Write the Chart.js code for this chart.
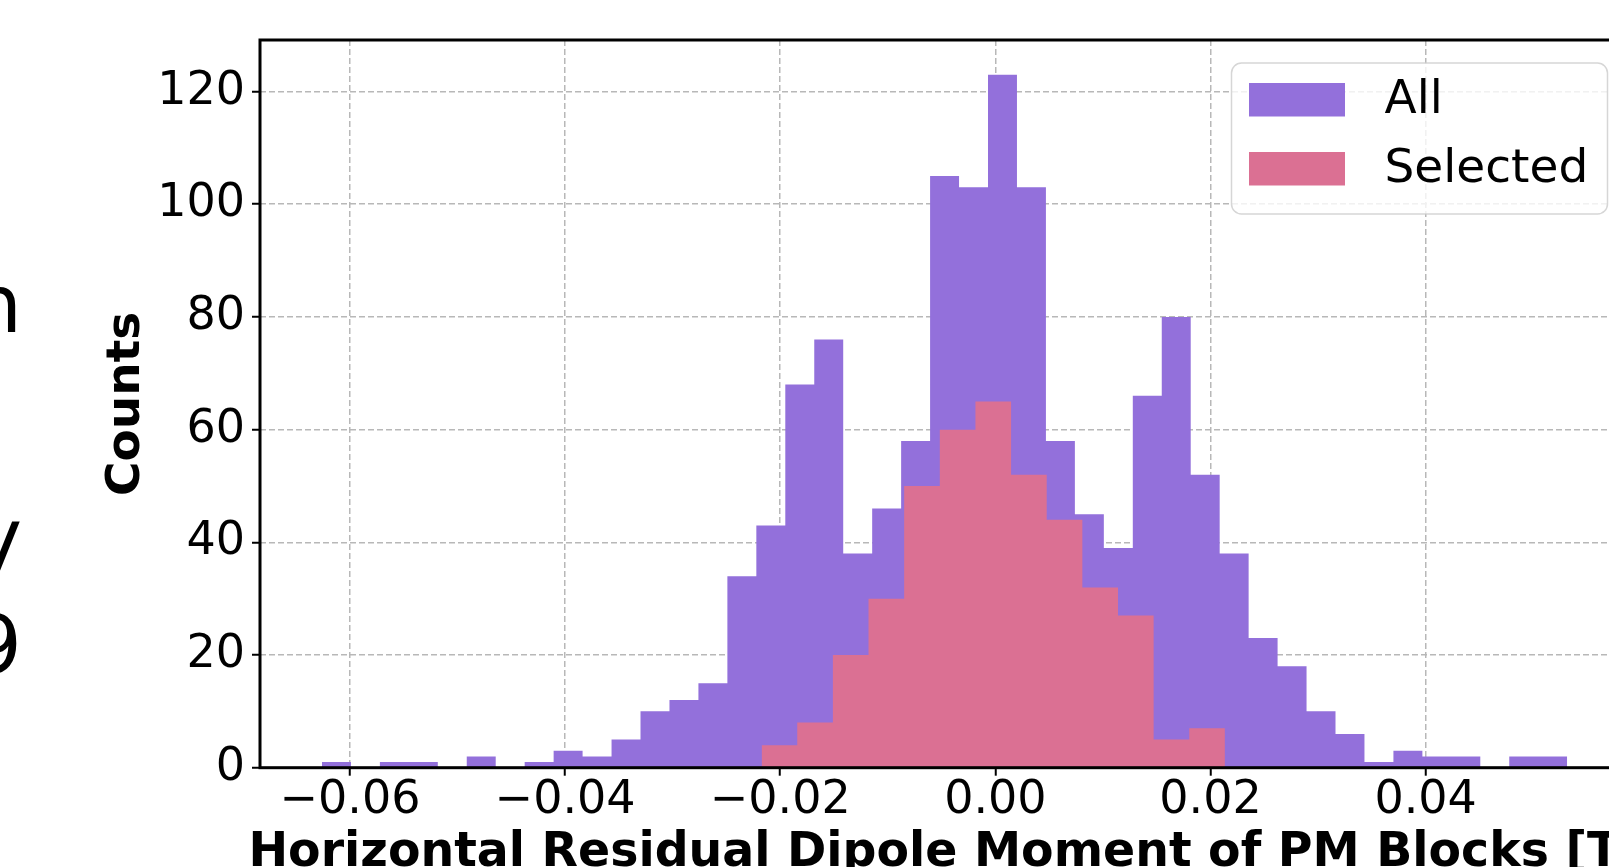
<!DOCTYPE html>
<html>
<head>
<meta charset="utf-8">
<script src="https://cdn.jsdelivr.net/npm/chart.js@4.4.1/dist/chart.umd.min.js"></script>
<style>
  html, body { margin: 0; padding: 0; background: #fff; overflow: hidden; width: 1609px; height: 867px; }
  #wrap { position: absolute; left: 0; top: 0; width: 1700px; height: 900px; }
  .frag { position: absolute; width: 300px; text-align: right; font: 80px 'DejaVu Sans'; line-height: 1; white-space: nowrap; color: #000; }
</style>
</head>
<body>
<div id="wrap"><canvas id="hist" width="1700" height="900"></canvas></div>
<div class="frag" style="left:-278px; top:265px">n</div>
<div class="frag" style="left:-278px; top:498px">y</div>
<div class="frag" style="left:-278px; top:606px">9</div>
<script>

  /* 
    ==================================================
    ======================= DATA =======================
    ==================================================
  */

  // "All" histogram : first bin edge, bin width, counts
  const allStart = -0.06260;
  const allWidth = 0.002692;
  const allCounts = [1, 0, 1, 1, 0, 2, 0, 1, 3, 2,
    5, 10, 12, 15, 34, 43, 68, 76, 38, 46,
    58, 105, 103, 123, 103, 58, 45, 39, 66, 80,
    52, 38, 23, 18, 10, 6, 1, 3, 2, 2,
    0, 2, 2];

  // "Selected" histogram
  const selStart = -0.02173;
  const selWidth = 0.003313;
  const selCounts = [4, 8, 20, 30, 50, 60, 65, 52, 44, 32, 27, 5, 7];

  const xTicks = [-0.06, -0.04, -0.02, 0, 0.02, 0.04];
  const yTicks = [0, 20, 40, 60, 80, 100, 120];

  const xMin = -0.06836, xMax = 0.05895;
  const yMax = 129.15;

  const xLabel = 'Horizontal Residual Dipole Moment of PM Blocks [T]';
  const yLabel = 'Counts';

  /* 
    ==================================================
    ====================== HELPERS =====================
    ==================================================
  */

  // bin edges -> points for a stepped, filled line
  function histPoints(start, width, counts) {
    let pts = counts.map((c, i) => ({ x: start + i * width, y: c }));
    pts.push({ x: start + counts.length * width, y: 0 });
    return pts;
  }

  let fmtX = v => (v < -1e-9 ? '\u2212' : '') + Math.abs(v).toFixed(2);

  let grid = {
    color: '#b8b8b8',
    lineWidth: 1.5,
    tickLength: 8,
    tickColor: '#000',
    tickWidth: 2,
    tickBorderDash: []
  };

  // in v4 the dash of the grid lines lives under border
  let border = { display: false, dash: [6, 3] };

  let tickFont = { family: 'DejaVu Sans', size: 46, lineHeight: 1 };

  /* 
    ==================================================
    ====================== PLUGINS =====================
    ==================================================
  */

  // axes box (spines)
  const frame = {
    id: 'frame',
    afterDatasetsDraw(chart) {
      let { ctx, chartArea: a } = chart;
      ctx.save();
      ctx.strokeStyle = '#000';
      ctx.lineWidth = 3;
      ctx.strokeRect(a.left, a.top, a.right - a.left, a.bottom - a.top);
      ctx.restore();
    }
  };

  // x label is wider than the axes, so drawn here (chart.js would squeeze it)
  const xTitle = {
    id: 'xTitle',
    afterDraw(chart) {
      let { ctx, chartArea: a } = chart;
      ctx.save();
      ctx.font = "bold 47.4px 'DejaVu Sans'";
      ctx.fillStyle = '#000';
      ctx.textAlign = 'center';
      ctx.textBaseline = 'alphabetic';
      ctx.fillText(xLabel, (a.left + a.right) / 2, 866);
      ctx.restore();
    }
  };

  // legend in the upper right corner of the axes
  const boxLegend = {
    id: 'boxLegend',
    afterDraw(chart) {
      let { ctx, chartArea: a } = chart;
      let w = 376, h = 151;
      let x = a.right - 22 - w, y = a.top + 23;
      ctx.save();
      ctx.beginPath();
      ctx.roundRect(x, y, w, h, 10);
      ctx.fillStyle = 'rgba(255, 255, 255, 0.8)';
      ctx.fill();
      ctx.strokeStyle = 'rgba(204, 204, 204, 0.8)';
      ctx.lineWidth = 1.5;
      ctx.stroke();

      ctx.font = "47px 'DejaVu Sans'";
      ctx.textBaseline = 'middle';
      chart.data.datasets.forEach((ds, k) => {
        let hy = y + 20 + k * 69;
        ctx.fillStyle = ds.backgroundColor;
        ctx.fillRect(x + 17.5, hy, 96, 33.5);
        ctx.fillStyle = '#000';
        ctx.fillText(ds.label, x + 153, hy + 18);
      });
      ctx.restore();
    }
  };

  /* 
    ==================================================
    ======================= CHART ======================
    ==================================================
  */

  new Chart(document.getElementById('hist').getContext('2d'), {
    type: 'line',
    data: {
      datasets: [{
        label: 'All',
        data: histPoints(allStart, allWidth, allCounts),
        backgroundColor: 'rgb(147, 112, 219)',
        borderColor: 'transparent',
        borderWidth: 0,
        pointRadius: 0,
        stepped: true,
        fill: 'origin',
        order: 2
      }, {
        label: 'Selected',
        data: histPoints(selStart, selWidth, selCounts),
        backgroundColor: 'rgb(219, 112, 147)',
        borderColor: 'transparent',
        borderWidth: 0,
        pointRadius: 0,
        stepped: true,
        fill: 'origin',
        order: 1
      }]
    },
    options: {
      responsive: false,
      animation: false,
      events: [],
      layout: { padding: { left: 0, top: 40, right: 70.5, bottom: 0 } },
      plugins: {
        legend: { display: false },
        tooltip: { enabled: false }
      },
      scales: {
        x: {
          type: 'linear',
          min: xMin,
          max: xMax,
          afterBuildTicks: s => { s.ticks = xTicks.map(v => ({ value: v })); },
          afterFit: s => { s.height = 900 - 767.7; },
          grid,
          border,
          ticks: { color: '#000', font: tickFont, padding: 2, maxRotation: 0, autoSkip: false, callback: v => fmtX(v) }
        },
        y: {
          min: 0,
          max: yMax,
          afterBuildTicks: s => { s.ticks = yTicks.map(v => ({ value: v })); },
          afterFit: s => { s.width = 260; },
          grid,
          border,
          ticks: { color: '#000', font: { family: 'DejaVu Sans', size: 46 }, padding: 7 },
          title: {
            display: true,
            text: yLabel,
            color: '#000',
            font: { family: 'DejaVu Sans', size: 47, weight: 'bold', lineHeight: 1.2 },
            padding: { top: 98.5, bottom: 0 }
          }
        }
      }
    },
    plugins: [frame, xTitle, boxLegend]
  });

</script>
</body>
</html>
